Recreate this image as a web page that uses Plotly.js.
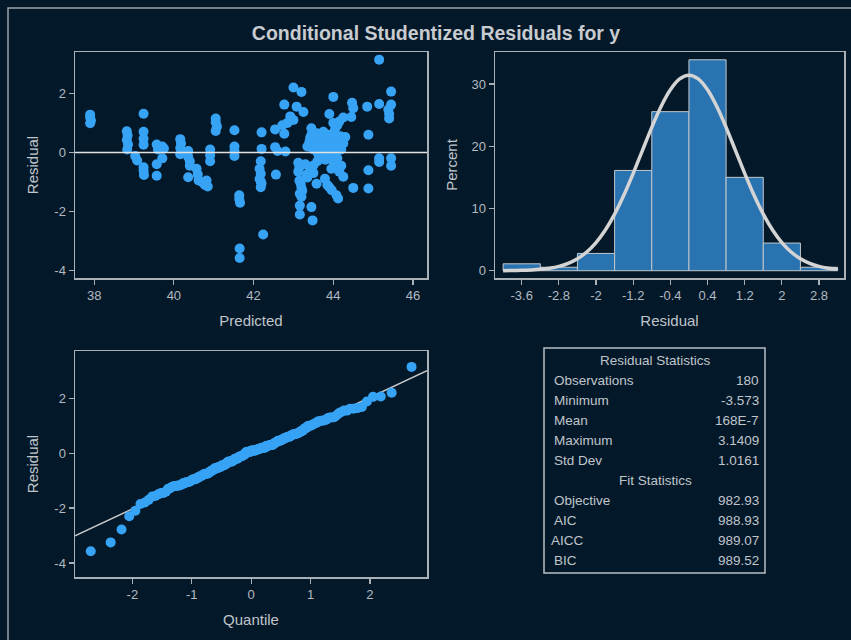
<!DOCTYPE html>
<html><head><meta charset="utf-8">
<script src="https://cdn.plot.ly/plotly-3.0.1.min.js"></script>
<style>html,body{margin:0;padding:0;background:#03192a;}</style>
</head><body><div id="chart" style="width:851px;height:640px;"></div>
<script>
const predicted = [
37.90,37.90,37.92,37.90,38.82,38.84,38.82,38.85,38.83,39.03,39.08,39.24,39.24,39.24,39.24,39.24,39.24,39.25,39.57,39.60,39.71,39.75,39.71,39.57,39.57,40.16,40.18,40.16,40.20,40.16,40.36,40.36,40.40,40.40,40.36,40.57,40.60,40.62,40.82,40.85,40.91,40.91,40.91,41.05,41.05,41.08,41.05,40.72,40.78,
41.52,41.52,41.52,41.52,41.64,41.64,41.66,41.65,41.65,42.20,42.20,42.18,42.15,42.18,42.15,42.20,42.18,42.24,42.54,42.54,42.60,42.56,42.77,42.72,42.77,42.80,42.85,42.18,
43.00,43.20,42.92,43.08,43.25,43.00,43.12,43.15,43.12,43.18,43.20,43.16,43.20,43.16,43.16,43.22,43.15,
43.45,43.48,43.50,43.58,43.79,43.96,44.08,44.12,44.25,44.08,44.00,43.90,44.25,44.15,44.10,44.05,44.30,43.85,43.90,43.35,
43.30,43.42,43.50,43.33,43.60,43.70,43.80,43.90,44.00,44.10,44.15,44.20,43.95,43.62,44.05,
43.35,43.40,43.42,43.45,43.50,43.52,43.55,43.58,43.60,43.62,43.65,43.70,43.72,43.75,43.78,43.80,43.85,43.88,43.90,43.92,43.95,43.98,44.00,44.02,44.05,44.10,44.12,44.18,44.20,44.25,
43.45,44.00,
45.15,45.45,45.45,45.38,45.40,45.40,45.15,44.85,44.88,45.15,45.15,45.45,45.45,44.88,44.88,44.50,44.47,44.50,44.45
];
const residual = [
1.28,1.18,1.08,0.99,0.72,0.57,0.42,0.27,0.10,-0.12,-0.27,1.31,0.70,0.46,0.26,-0.50,-0.62,-0.76,0.27,0.10,0.20,0.13,-0.20,-0.40,-0.79,0.45,0.30,0.15,0.03,-0.06,0.05,-0.15,-0.30,-0.45,-0.84,-0.55,-0.75,-0.95,-0.95,-1.15,0.10,-0.10,-0.30,1.15,1.02,0.88,0.73,-1.02,-1.10,
0.75,0.20,0.05,-0.12,-1.45,-1.58,-1.70,-3.25,-3.573,0.68,0.12,-0.30,-0.55,-0.72,-0.90,-1.05,-1.18,-2.78,0.78,0.18,0.05,-0.75,0.63,0.92,1.62,0.03,1.00,-0.98,
2.20,2.05,1.22,1.55,1.37,1.10,-0.35,-0.50,-0.65,-1.05,-1.20,-1.40,-1.50,-1.80,-2.10,-1.30,-0.95,
-1.85,-2.30,-0.44,-1.06,-0.89,-1.28,-1.45,-1.56,-0.82,-0.50,1.88,1.30,1.18,1.05,0.92,0.82,0.52,-1.10,-1.18,-0.85,
-0.40,-0.55,-0.70,-0.75,-0.30,-0.15,-0.25,-0.10,-0.30,-0.20,-0.65,-0.45,-0.55,-0.05,-0.05,
0.20,0.35,0.50,0.60,0.10,0.30,0.45,0.65,0.20,0.05,0.38,0.55,0.15,0.70,0.28,0.45,0.10,0.60,0.30,0.20,0.50,0.05,0.35,0.68,0.15,0.40,0.25,0.55,0.10,0.30,
0.82,1.00,
3.1409,2.06,1.62,1.45,1.30,1.15,1.64,1.55,0.60,-0.20,-0.32,-0.20,-0.45,-0.60,-1.22,-1.20,1.68,1.50,1.20
];
const histBins = {start: -4.0, end: 3.2, size: 0.8};
const histTicks = [-3.6, -2.8, -2, -1.2, -0.4, 0.4, 1.2, 2, 2.8];
const curveX = [-4.0,-3.8,-3.6,-3.4,-3.2,-3.0,-2.8,-2.6,-2.4,-2.2,-2.0,-1.8,-1.6,-1.4,-1.2,-1.0,-0.8,-0.6,-0.4,-0.2,0,0.2,0.4,0.6,0.8,1.0,1.2,1.4,1.6,1.8,2.0,2.2,2.4,2.6,2.8,3.0,3.2];
const curvePct = [0.01,0.03,0.06,0.12,0.22,0.40,0.70,1.19,1.93,3.01,4.53,6.54,9.09,12.16,15.64,19.35,23.04,26.38,29.07,30.81,31.41,30.81,29.07,26.38,23.04,19.35,15.64,12.16,9.09,6.54,4.53,3.01,1.93,1.19,0.70,0.40,0.22];
const statLabels = ['Observations','Minimum','Mean','Maximum','Std Dev'];
const statValues = ['180','-3.573','168E-7','3.1409','1.0161'];
const fitLabels = ['Objective','AIC','AICC','BIC'];
const fitValues = ['982.93','988.93','989.07','989.52'];
const scatterTicksX = [38, 40, 42, 44, 46];
const residTicks = [-4, -2, 0, 2];
const pctTicks = [0, 10, 20, 30];
const quantTicks = [-2, -1, 0, 1, 2];

function invNorm(p){
  const a=[-3.969683028665376e+01,2.209460984245205e+02,-2.759285104469687e+02,1.383577518672690e+02,-3.066479806614716e+01,2.506628277459239e+00];
  const b=[-5.447609879822406e+01,1.615858368580409e+02,-1.556989798598866e+02,6.680131188771972e+01,-1.328068155288572e+01];
  const c=[-7.784894002430293e-03,-3.223964580411365e-01,-2.400758277161838e+00,-2.549732539343734e+00,4.374664141464968e+00,2.938163982698783e+00];
  const d=[7.784695709041462e-03,3.224671290700398e-01,2.445134137142996e+00,3.754408661907416e+00];
  const pl=0.02425, ph=1-pl; let q, r;
  if(p<pl){q=Math.sqrt(-2*Math.log(p));return (((((c[0]*q+c[1])*q+c[2])*q+c[3])*q+c[4])*q+c[5])/((((d[0]*q+d[1])*q+d[2])*q+d[3])*q+1);}
  if(p<=ph){q=p-0.5;r=q*q;return (((((a[0]*r+a[1])*r+a[2])*r+a[3])*r+a[4])*r+a[5])*q/(((((b[0]*r+b[1])*r+b[2])*r+b[3])*r+b[4])*r+1);}
  q=Math.sqrt(-2*Math.log(1-p));return -(((((c[0]*q+c[1])*q+c[2])*q+c[3])*q+c[4])*q+c[5])/((((d[0]*q+d[1])*q+d[2])*q+d[3])*q+1);
}
const sorted = residual.slice().sort((u,v)=>u-v);
const n = sorted.length;
const quantiles = sorted.map((_,i)=>invNorm((i+1-0.375)/(n+0.25)));
const meanVal = parseFloat(statValues[2]);
const sdVal = parseFloat(statValues[4]);

const BG = '#03192a';
const LINE = '#a9b0b6';
const TICKC = '#b4bac0';
const TXT = '#c0c5ca';
const DOT = '#37a3f5';
const FONT = 'Liberation Sans, Arial, sans-serif';

const qqRange = [-2.965, 2.96];

function ax(extra){
  return Object.assign({
    showline:true, mirror:true, linecolor:LINE, linewidth:1.5,
    ticks:'outside', ticklen:5, tickwidth:1.2, tickcolor:LINE,
    tickfont:{color:TICKC, size:13, family:FONT},
    showgrid:false, zeroline:false, fixedrange:true
  }, extra);
}
function tt(v){ return v.map(x=>String(x)); }
function ttl(t, s){ return {text:t, standoff:s, font:{size:15, color:TXT, family:FONT}}; }

const traces = [
  {type:'scatter', mode:'markers', x:predicted, y:residual, xaxis:'x', yaxis:'y',
   marker:{color:DOT, size:10}, hoverinfo:'skip'},
  {type:'histogram', x:residual, xbins:histBins, histnorm:'percent', autobinx:false,
   xaxis:'x2', yaxis:'y2', marker:{color:'#2a73b1', line:{color:'#c3c8cc', width:1}}, hoverinfo:'skip'},
  {type:'scatter', mode:'lines', x:curveX, y:curvePct, xaxis:'x2', yaxis:'y2',
   line:{color:'#d4d4d4', width:3.5, shape:'spline'}, hoverinfo:'skip'},
  {type:'scatter', mode:'lines', x:qqRange, y:qqRange.map(q=>meanVal+sdVal*q), xaxis:'x3', yaxis:'y3',
   line:{color:'#c8c8c8', width:1.5}, hoverinfo:'skip'},
  {type:'scatter', mode:'markers', x:quantiles, y:sorted, xaxis:'x3', yaxis:'y3',
   marker:{color:DOT, size:10}, hoverinfo:'skip'}
];

const W = 851, H = 640;
const px = v => v/W, py = v => 1 - v/H;

const annotations = [];
const tableRows = [{t:'Residual Statistics', hdr:true}]
  .concat(statLabels.map((l,i)=>({l:l, v:statValues[i]})))
  .concat([{t:'Fit Statistics', hdr:true}])
  .concat(fitLabels.map((l,i)=>({l:l, v:fitValues[i]})));
const TF = {color:TXT, size:13.5, family:FONT};
tableRows.forEach((r,i)=>{
  const y = py(360.5 + 20*i);
  if(r.hdr){
    annotations.push({xref:'paper', yref:'paper', x:px(655), y:y, text:r.t, showarrow:false,
      xanchor:'center', yanchor:'middle', font:TF});
  } else {
    annotations.push({xref:'paper', yref:'paper', x:px(r.l==='AICC'?549:552), y:y, text:r.l, showarrow:false,
      xanchor:'left', yanchor:'middle', font:TF});
    annotations.push({xref:'paper', yref:'paper', x:px(761), y:y, text:r.v, showarrow:false,
      xanchor:'right', yanchor:'middle', font:TF});
  }
});

const layout = {
  width:W, height:H, margin:{l:0,r:0,t:0,b:0},
  paper_bgcolor:BG, plot_bgcolor:BG, showlegend:false, bargap:0,
  font:{family:FONT, color:TICKC},
  title:{text:'<b>Conditional Studentized Residuals for y</b>', x:px(436), xanchor:'center', xref:'paper',
         y:py(33), yanchor:'middle', yref:'paper', font:{size:19.5, color:'#c8cbcf', family:FONT}},
  xaxis: ax({domain:[px(75),px(427)], range:[37.52,46.35], anchor:'y', tickvals:scatterTicksX, ticktext:tt(scatterTicksX),
             title:ttl('Predicted', 13)}),
  yaxis: ax({domain:[py(278),py(52)], range:[-4.25,3.40], anchor:'x', tickvals:residTicks, ticktext:tt(residTicks),
             title:ttl('Residual', 12)}),
  xaxis2: ax({domain:[px(495),px(844)], range:[-4.175,3.338], anchor:'y2', tickvals:histTicks, ticktext:tt(histTicks),
             title:ttl('Residual', 13)}),
  yaxis2: ax({domain:[py(278),py(52)], range:[-1.17,35.14], anchor:'x2', tickvals:pctTicks, ticktext:tt(pctTicks),
             title:ttl('Percent', 10)}),
  xaxis3: ax({domain:[px(75),px(427)], range:qqRange, anchor:'y3', tickvals:quantTicks, ticktext:tt(quantTicks),
             title:ttl('Quantile', 13)}),
  yaxis3: ax({domain:[py(577),py(351)], range:[-4.51,3.72], anchor:'x3', tickvals:residTicks, ticktext:tt(residTicks),
             title:ttl('Residual', 12)}),
  shapes:[
    {type:'line', xref:'x domain', x0:0, x1:1, yref:'y', y0:0, y1:0, line:{color:'#e2e2e2', width:1.5}, layer:'above'},
    {type:'rect', xref:'paper', yref:'paper', x0:px(544), x1:px(765), y0:py(573), y1:py(348), line:{color:'#b8bec4', width:1.5}},
    {type:'rect', xref:'paper', yref:'paper', x0:px(8), x1:1.05, y0:-0.05, y1:py(8), line:{color:'#9aa3ab', width:1.5}}
  ],
  annotations:annotations
};

Plotly.newPlot('chart', traces, layout, {staticPlot:true, displayModeBar:false});
</script>
</body></html>
